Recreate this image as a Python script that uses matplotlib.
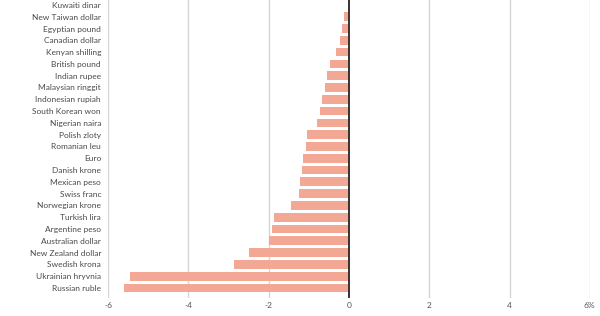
import matplotlib
matplotlib.use("Agg")
import matplotlib.pyplot as plt

currencies = ["Kuwaiti dinar", "New Taiwan dollar", "Egyptian pound", "Canadian dollar",
              "Kenyan shilling", "British pound", "Indian rupee", "Malaysian ringgit",
              "Indonesian rupiah", "South Korean won", "Nigerian naira", "Polish zloty",
              "Romanian leu", "Euro", "Danish krone", "Mexican peso", "Swiss franc",
              "Norwegian krone", "Turkish lira", "Argentine peso", "Australian dollar",
              "New Zealand dollar", "Swedish krona", "Ukrainian hryvnia", "Russian ruble"]
change_pct = [0.0, -0.11, -0.17, -0.23, -0.33, -0.48, -0.55, -0.60, -0.67, -0.72, -0.80,
              -1.05, -1.08, -1.15, -1.17, -1.21, -1.24, -1.45, -1.87, -1.91, -1.98,
              -2.50, -2.87, -5.45, -5.60]
xticks = [-6, -4, -2, 0, 2, 4, 6]
xtick_labels = ["-6", "-4", "-2", "0", "2", "4", "6%"]

plt.rcParams['font.family'] = ['Lato', 'DejaVu Sans']

fig = plt.figure(figsize=(6, 3.16), dpi=100)
ax = fig.add_axes([0.18, 0.057, 0.803, 0.943])

ypos = list(range(len(currencies)))
ax.barh(ypos, change_pct, height=0.74, color='#f3a896', zorder=2)

for t in xticks:
    if t == 0:
        ax.axvline(t, color='#3a3030', lw=1.4, zorder=3)
    else:
        ax.axvline(t, color='#d6d6d6', lw=1.0, zorder=1)

ax.set_xlim(-6, 6)
ax.set_ylim(len(currencies) - 1 + 0.85, -0.42)
ax.set_yticks(ypos)
ax.set_yticklabels(currencies, fontsize=6.0, color='#4a4a4a')
ax.set_xticks(xticks)
ax.set_xticklabels(xtick_labels, fontsize=6.0, color='#555555')
ax.tick_params(axis='both', length=0)
ax.tick_params(axis='y', pad=5)
ax.tick_params(axis='x', pad=3)
for s in ax.spines.values():
    s.set_visible(False)

fig.savefig("out.png", dpi=100)
